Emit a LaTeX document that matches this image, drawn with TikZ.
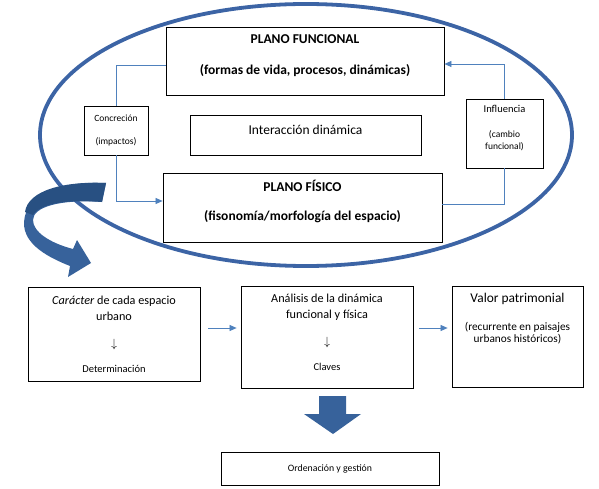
\documentclass[tikz,border=0pt]{standalone}
\usepackage{fontspec}
\setmainfont{Carlito}
\usetikzlibrary{arrows.meta, positioning, calc}
\definecolor{ringblue}{RGB}{60,100,165}
\definecolor{linkblue}{RGB}{79,129,189}
\definecolor{blockblue}{RGB}{55,98,155}
\definecolor{folddark}{RGB}{40,80,130}

\begin{document}
\begin{tikzpicture}[x=1pt, y=-1pt, >={Triangle[length=7pt,width=6pt]},
    box/.style={rectangle, draw=black, line width=0.8pt, fill=white,
                align=center, inner sep=2pt},
    bigtext/.style={font=\fontsize{13.5}{16}\selectfont\bfseries},
    midtext/.style={font=\fontsize{12.2}{16}\selectfont},
    smalltext/.style={font=\fontsize{9.5}{12}\selectfont},
    link/.style={linkblue, line width=0.7pt}]

\useasboundingbox (0,0) rectangle (599,489);

% ════════════════════════════════════════
%  TOP: the two planes inside the ring
% ════════════════════════════════════════

% Ring
\draw[ringblue, line width=3.8pt] (306,135) ellipse [x radius=266, y radius=131];

% Functional plane
\node[box, bigtext, minimum width=278, minimum height=68] (funcional) at (305,61)
    {PLANO FUNCIONAL\\[15pt](formas de vida, procesos, dinámicas)\rule[-12pt]{0pt}{12pt}};

% Dynamic interaction
\node[box, font=\fontsize{13.5}{16}\selectfont, minimum width=231, minimum height=40]
    (interaccion) at (305.5,135) {Interacción dinámica\rule[-10pt]{0pt}{10pt}};

% Physical plane
\node[box, bigtext, minimum width=279, minimum height=69] (fisico) at (302.5,207.5)
    {PLANO FÍSICO\\[13pt](fisonomía/morfología del espacio)\rule[-14pt]{0pt}{14pt}};

% Side boxes
\node[box, smalltext, minimum width=64, minimum height=49] (concrecion) at (116,130.5)
    {Concreción\\[11pt](impactos)};
\node[box, smalltext, minimum width=77, minimum height=69] (influencia) at (504.5,133.5)
    {{\fontsize{10.5}{12}\selectfont Influencia}\\[13pt](cambio\\funcional)\rule[-12pt]{0pt}{12pt}};

% Loop connectors
\draw[link] ([yshift=-4pt]funcional.west) -| (concrecion.north);
\draw[link, ->] (concrecion.south) |- ([yshift=6.5pt]fisico.west);
\draw[link] ([yshift=3.5pt]fisico.east) -| (influencia.south);
\draw[link, ->] (influencia.north) |- ([yshift=-3pt]funcional.east);

% Curved block arrow out of the ring
\fill[blockblue] (106,183) .. controls (65,181) and (26,192) .. (24,222)
    .. controls (23,245) and (50,258) .. (70,266) -- (68,277) -- (91,263)
    -- (77,240) -- (73,249) .. controls (50,243) and (33,232) .. (33,220)
    .. controls (33,207) and (60,199) .. (102,202) -- cycle;
\fill[folddark] (106,183) .. controls (65,181) and (28,190) .. (25,212)
    -- (33,215) .. controls (40,204) and (65,199) .. (102,202) -- cycle;

% ════════════════════════════════════════
%  BOTTOM: from character to management
% ════════════════════════════════════════

\node[box, midtext, minimum width=172, minimum height=94] (caracter) at (114,334)
    {\textit{Carácter} de cada espacio\\urbano\\[11pt]$\downarrow$\\[9pt]{\fontsize{10.5}{12}\selectfont Determinación}};
\node[box, midtext, minimum width=172, minimum height=102] (analisis) at (327,337)
    {Análisis de la dinámica\\funcional y física\\[11pt]$\downarrow$\\[9pt]{\fontsize{10.5}{12}\selectfont Claves}\rule[-10pt]{0pt}{10pt}};
\node[box, font=\fontsize{11.3}{12}\selectfont, minimum width=131, minimum height=101]
    (valor) at (517.5,336.5)
    {{\fontsize{13.4}{14}\selectfont Valor patrimonial}\\[16pt](recurrente en paisajes\\urbanos históricos)\rule[-38pt]{0pt}{38pt}};
\node[box, font=\fontsize{9.8}{12}\selectfont, minimum width=218, minimum height=33]
    (ordenacion) at (330,468.5) {Ordenación y gestión};

\draw[link, ->, shorten <=8pt, shorten >=4pt]
    ([yshift=6pt]caracter.east) -- ([yshift=6pt]caracter.east -| analisis.west);
\draw[link, ->, shorten <=6pt, shorten >=4pt]
    ([yshift=9pt]analisis.east) -- ([yshift=9pt]analisis.east -| valor.west);

% Block arrow down to management
\fill[blockblue] (319,396) -- (346,396) -- (346,414) -- (361,414) -- (333,434)
    -- (304,414) -- (319,414) -- cycle;

\end{tikzpicture}
\end{document}
